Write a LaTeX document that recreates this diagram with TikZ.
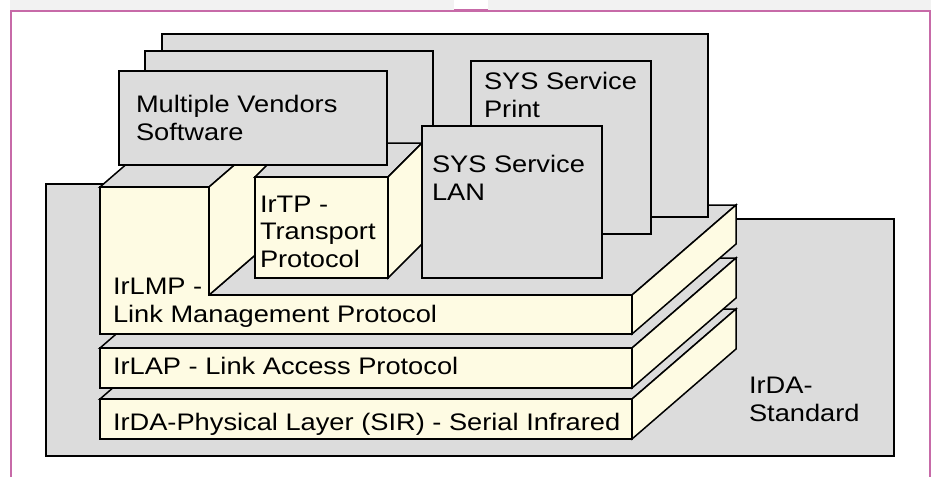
\documentclass[tikz,border=0pt]{standalone}
\usepackage{fontspec}
\setmainfont{Liberation Sans}[FakeStretch=1.14]
\definecolor{boxgray}{RGB}{220,220,220}
\definecolor{layeryellow}{RGB}{254,251,227}
\definecolor{bandgray}{RGB}{242,242,242}
\definecolor{framepink}{RGB}{199,106,168}
\tikzset{
  gface/.style={fill=boxgray, draw=black, line width=1.5pt, line join=miter},
  yface/.style={fill=layeryellow, draw=black, line width=1.5pt, line join=miter},
  lbl/.style={anchor=base west, inner sep=0pt, outer sep=0pt, align=left,
              font=\fontsize{23.9}{27.5}\selectfont, text=black}
}
\begin{document}
\begin{tikzpicture}[x=1pt,y=-1pt]
\useasboundingbox (0,0) rectangle (934,477);
\fill[white] (0,0) rectangle (934,477);
% page band and frame
\fill[bandgray] (10,0) rectangle (454,9.5);
\fill[bandgray] (488,0) rectangle (931,9.5);
\fill[framepink] (454,9) rectangle (488,12);
\draw[framepink, line width=2pt] (11,477) -- (11,11) -- (930,11) -- (930,477);
% IrDA standard background
\draw[gface] (46,184) -- (500,184) -- (500,219) -- (894,219) -- (894,456) -- (46,456) -- cycle;
% physical layer slab
\draw[gface] (100,399) -- (632,399) -- (736,309) -- (204,309) -- cycle;
\draw[yface] (632,399) -- (736,309) -- (736,349) -- (632,439) -- cycle;
\draw[yface] (100,399) rectangle (632,439);
% IrLAP slab
\draw[gface] (100,348) -- (632,348) -- (736,258) -- (204,258) -- cycle;
\draw[yface] (632,348) -- (736,258) -- (736,298) -- (632,388) -- cycle;
\draw[yface] (100,348) rectangle (632,388);
% IrLMP base slab
\draw[gface] (209,295) -- (632,295) -- (736,205) -- (313,205) -- cycle;
\draw[yface] (632,295) -- (736,205) -- (736,244) -- (632,334) -- cycle;
% back application boxes
\draw[gface] (162,34) rectangle (708,217);
\draw[gface] (145,51) rectangle (433,160);
% IrLMP tall part
\draw[gface] (100,187) -- (209,187) -- (313,97) -- (204,97) -- cycle;
\draw[yface] (209,187) -- (313,97) -- (313,205) -- (209,295) -- cycle;
\draw[yface] (100,187) -- (209,187) -- (209,295) -- (632,295) -- (632,334) -- (100,334) -- cycle;
% IrTP block
\draw[gface] (255,177) -- (388,177) -- (422,143) -- (289,143) -- cycle;
\draw[yface] (388,177) -- (422,143) -- (422,244) -- (388,278) -- cycle;
\draw[yface] (255,177) rectangle (388,278);
% front application boxes
\draw[gface] (119,71) rectangle (387,165);
\draw[gface] (471,61) rectangle (651,234);
\draw[gface] (422,126) rectangle (602,278);
% labels (base anchor = baseline of last line)
\node[lbl] (software) at (136,140) {Multiple Vendors\\Software};
\node[lbl] (print) at (484,117) {SYS Service\\Print};
\node[lbl] (lan) at (432,200) {SYS Service\\LAN};
\node[lbl] (irtp) at (260,267) {IrTP -\\Transport\\Protocol};
\node[lbl] (irlmp) at (113,322) {IrLMP -\\Link Management Protocol};
\node[lbl] (irlap) at (113,374) {IrLAP - Link Access Protocol};
\node[lbl] (phys) at (113,430) {IrDA-Physical Layer (SIR) - Serial Infrared};
\node[lbl] (std) at (749,421) {IrDA-\\Standard};
\end{tikzpicture}
\end{document}
